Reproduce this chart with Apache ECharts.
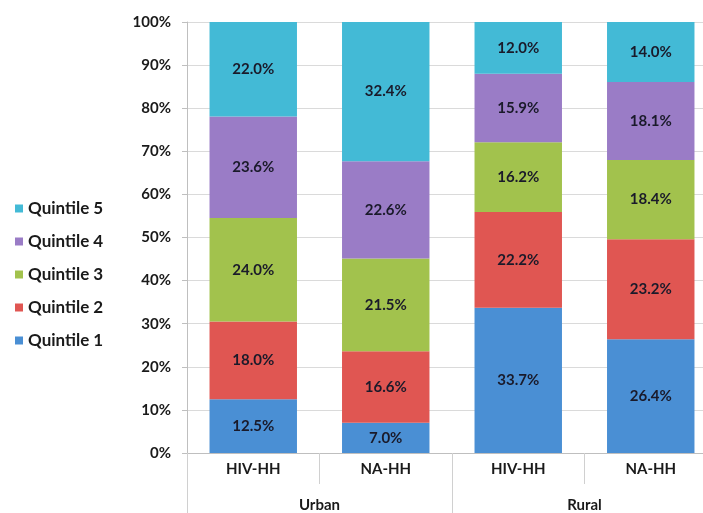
<!DOCTYPE html>
<html>
<head>
<meta charset="utf-8">
<script src="https://cdn.jsdelivr.net/npm/echarts@6/dist/echarts.min.js"></script>
<style>
html,body{margin:0;padding:0;background:#fff;overflow:hidden;width:703px;height:513px;}
#chart{width:717px;height:513px;}
</style>
</head>
<body>
<div id="chart"></div>
<script>
const groups = ['HIV-HH', 'NA-HH', 'HIV-HH', 'NA-HH'];
const areas = ['Urban', 'Rural'];
const yTicks = [0, 10, 20, 30, 40, 50, 60, 70, 80, 90, 100];
const quintile1 = [12.5, 7.0, 33.7, 26.4];
const quintile2 = [18.0, 16.6, 22.2, 23.2];
const quintile3 = [24.0, 21.5, 16.2, 18.4];
const quintile4 = [23.6, 22.6, 15.9, 18.1];
const quintile5 = [22.0, 32.4, 12.0, 14.0];
const seriesNames = ['Quintile 1', 'Quintile 2', 'Quintile 3', 'Quintile 4', 'Quintile 5'];
const seriesValues = [quintile1, quintile2, quintile3, quintile4, quintile5];
const colors = ['#4a8fd4', '#e05652', '#a2c24d', '#9a7cc6', '#43bad6'];

const FONT = 'Lato, "Open Sans", sans-serif';
const chart = echarts.init(document.getElementById('chart'));
chart.setOption({
  animation: false,
  textStyle: { fontFamily: FONT },
  grid: { left: 187, top: 22, right: 0, bottom: 59, containLabel: false },
  legend: {
    orient: 'vertical',
    left: 10,
    top: 195,
    itemWidth: 8,
    itemHeight: 8,
    itemGap: 16,
    icon: 'rect',
    data: seriesNames.slice().reverse(),
    textStyle: { fontFamily: FONT, fontWeight: 'bold', fontSize: 17, color: '#1a1a1a' }
  },
  xAxis: [
    {
      type: 'category',
      data: groups,
      position: 'bottom',
      axisLine: { show: true, lineStyle: { color: '#bfbfbf' } },
      axisTick: { show: true, length: 31, alignWithLabel: false, lineStyle: { color: '#d0d0d0' } },
      axisLabel: { margin: 9, fontFamily: FONT, fontWeight: 'bold', fontSize: 15, color: '#1a1a1a', interval: 0 }
    },
    {
      type: 'category',
      data: areas,
      position: 'bottom',
      axisLine: { show: false },
      axisTick: { show: true, length: 60, alignWithLabel: false, lineStyle: { color: '#d0d0d0' } },
      axisLabel: { margin: 45, fontFamily: FONT, fontWeight: 'bold', fontSize: 15, color: '#1a1a1a', interval: 0 }
    }
  ],
  yAxis: {
    type: 'value',
    min: yTicks[0],
    max: yTicks[yTicks.length - 1],
    interval: yTicks[1] - yTicks[0],
    axisLine: { show: true, lineStyle: { color: '#bfbfbf' } },
    axisTick: { show: true, length: 5, lineStyle: { color: '#bfbfbf' } },
    splitLine: { show: true, lineStyle: { color: '#dadada' } },
    axisLabel: { formatter: '{value}%', margin: 16, fontFamily: FONT, fontWeight: 'bold', fontSize: 15, color: '#1a1a1a' }
  },
  series: seriesNames.map((name, i) => ({
    name: name,
    type: 'bar',
    stack: 'total',
    xAxisIndex: 0,
    barWidth: '66%',
    data: seriesValues[i],
    itemStyle: { color: colors[i] },
    label: {
      show: true,
      position: 'inside',
      formatter: p => p.value.toFixed(1) + '%',
      fontFamily: FONT,
      fontWeight: 'bold',
      fontSize: 15,
      color: '#1a1a2a'
    }
  }))
});
</script>
</body>
</html>
